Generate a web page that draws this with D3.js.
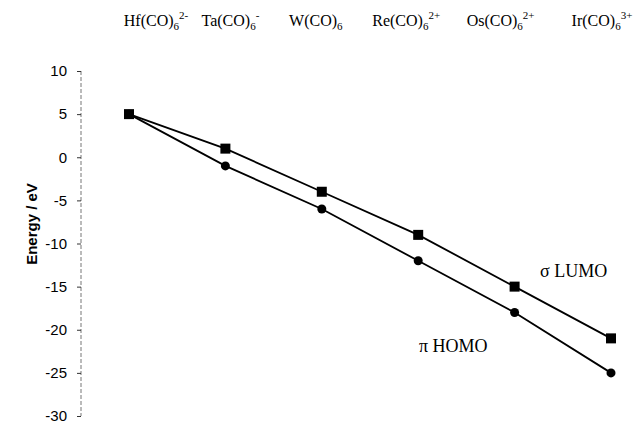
<!DOCTYPE html>
<html>
<head>
<meta charset="utf-8">
<script src="https://cdn.jsdelivr.net/npm/d3@7"></script>
<style>
  body { margin: 0; background: #fff; }
  svg { display: block; }
</style>
</head>
<body>
<div id="chart-container"></div>
<script>
// Data
const complexes = ["Hf", "Ta", "W", "Re", "Os", "Ir"];
const charges = ["2-", "-", "", "2+", "2+", "3+"];
const lumo = [5, 1, -4, -9, -15, -21];
const homo = [5, -1, -6, -12, -18, -25];
const yTicks = [10, 5, 0, -5, -10, -15, -20, -25, -30];

// small nudges for the formula labels on top (they are not centred on the points)
const labelShift = [27, 5, -6, -12, -14, -9];

const width = 637, height = 427;

const svg = d3.select("#chart-container")
  .append("svg")
  .attr("width", width)
  .attr("height", height);

// Scales
const xScale = d3.scalePoint().domain(complexes).range([129, 611]);
const yScale = d3.scaleLinear().domain([-30, 10]).range([416, 71]);

// Y axis (the scanned axis line looks broken / dotted)
const yAxis = svg.append("g")
  .attr("transform", "translate(81,0)")
  .call(d3.axisLeft(yScale).tickValues(yTicks).tickSize(4).tickPadding(10).tickFormat(d => String(d)));
yAxis.select(".domain")
  .attr("stroke", "#777")
  .attr("stroke-width", 1)
  .attr("stroke-dasharray", "4,2")
  .attr("d", "M0," + yScale(10) + "V" + yScale(-30));
yAxis.selectAll(".tick line").attr("stroke", "#333");
yAxis.selectAll(".tick text")
  .style("font-family", "'Liberation Sans', Arial, sans-serif")
  .style("font-size", "15px")
  .attr("fill", "#000");

// Y axis title
svg.append("text")
  .attr("transform", "translate(33,224) rotate(-90)")
  .attr("text-anchor", "middle")
  .attr("dominant-baseline", "middle")
  .style("font-family", "'Liberation Sans', Arial, sans-serif")
  .style("font-size", "15px")
  .style("font-weight", "bold")
  .text("Energy / eV");

// Lines
const line = d3.line()
  .x((d, i) => xScale(complexes[i]))
  .y(d => yScale(d));

[lumo, homo].forEach(series => {
  svg.append("path")
    .datum(series)
    .attr("fill", "none")
    .attr("stroke", "#000")
    .attr("stroke-width", 1.8)
    .attr("d", line);
});

// Markers
svg.selectAll(".homo")
  .data(homo)
  .enter().append("circle")
  .attr("class", "homo")
  .attr("cx", (d, i) => xScale(complexes[i]))
  .attr("cy", d => yScale(d))
  .attr("r", 4.5)
  .attr("fill", "#000");

svg.selectAll(".lumo")
  .data(lumo)
  .enter().append("rect")
  .attr("class", "lumo")
  .attr("x", (d, i) => xScale(complexes[i]) - 5)
  .attr("y", d => yScale(d) - 5)
  .attr("width", 10)
  .attr("height", 10)
  .attr("fill", "#000");

// Formula labels across the top
const serif = "'Liberation Serif', 'Times New Roman', serif";
complexes.forEach((c, i) => {
  const t = svg.append("text")
    .attr("x", xScale(c) + labelShift[i])
    .attr("y", 26)
    .attr("text-anchor", "middle")
    .style("font-family", serif)
    .style("font-size", "16px");
  t.append("tspan").text(c + "(CO)");
  t.append("tspan").attr("dy", 4).style("font-size", "11px").text("6");
  if (charges[i]) t.append("tspan").attr("dy", -11).style("font-size", "11px").text(charges[i]);
});

// Series labels
svg.append("text")
  .attr("x", 540).attr("y", 277)
  .style("font-family", serif).style("font-size", "18px")
  .text("\u03c3 LUMO");

svg.append("text")
  .attr("x", 419).attr("y", 352)
  .style("font-family", serif).style("font-size", "18px")
  .text("\u03c0 HOMO");
</script>
</body>
</html>
